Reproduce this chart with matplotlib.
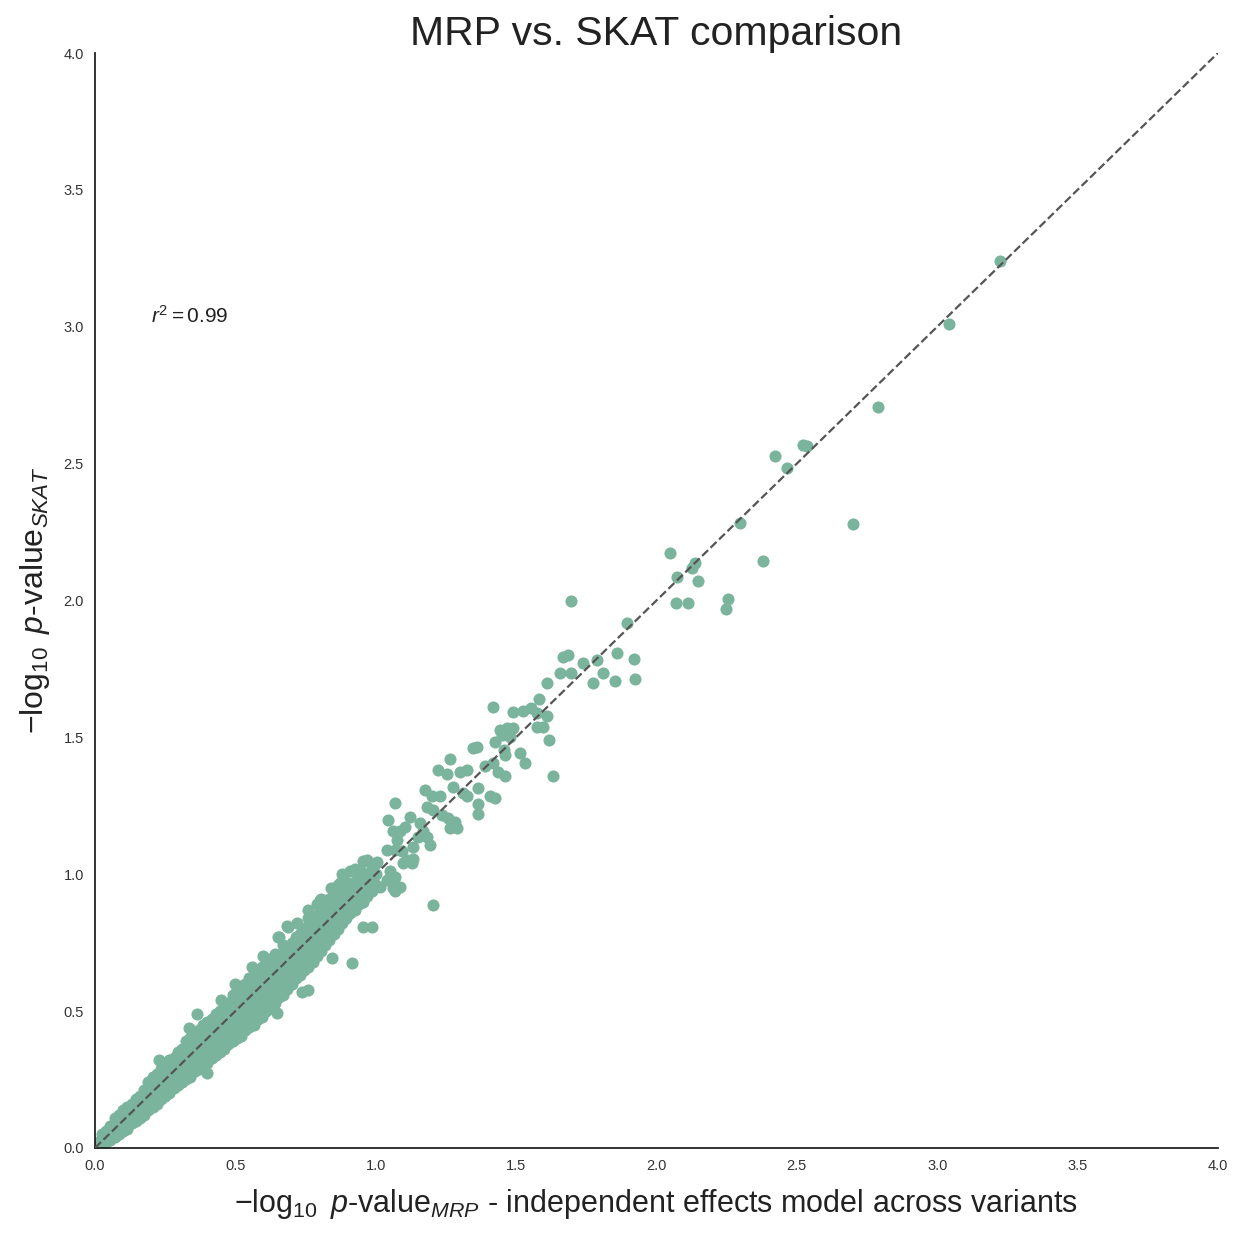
import matplotlib
matplotlib.use("Agg")
import matplotlib.pyplot as plt
import seaborn as sns

sns.set_style("white")
plt.rcParams['font.family'] = ['Liberation Sans', 'DejaVu Sans']
plt.rcParams['mathtext.fontset'] = 'custom'
plt.rcParams['mathtext.rm'] = 'Liberation Sans'
plt.rcParams['mathtext.it'] = 'Liberation Sans:italic'

# dense band near the diagonal: (MRP value, [SKAT values])
band_cols = [
    (0.010, [0.00, 0.02]),
    (0.025, [0.01, 0.03, 0.05]),
    (0.040, [0.02, 0.04, 0.06]),
    (0.055, [0.03, 0.05, 0.08]),
    (0.070, [0.04, 0.06, 0.09, 0.11]),
    (0.085, [0.05, 0.08, 0.10, 0.12]),
    (0.100, [0.06, 0.09, 0.11, 0.14]),
    (0.115, [0.07, 0.10, 0.13, 0.15]),
    (0.130, [0.09, 0.11, 0.14, 0.16]),
    (0.145, [0.10, 0.13, 0.15, 0.18]),
    (0.160, [0.11, 0.14, 0.17, 0.19]),
    (0.175, [0.12, 0.15, 0.18, 0.21]),
    (0.190, [0.14, 0.17, 0.19, 0.22, 0.24]),
    (0.205, [0.15, 0.18, 0.21, 0.24, 0.26]),
    (0.220, [0.16, 0.19, 0.22, 0.25, 0.27]),
    (0.235, [0.18, 0.21, 0.24, 0.26, 0.29]),
    (0.250, [0.19, 0.22, 0.25, 0.28, 0.30]),
    (0.265, [0.20, 0.23, 0.26, 0.29, 0.32]),
    (0.280, [0.22, 0.25, 0.28, 0.31, 0.33]),
    (0.295, [0.23, 0.26, 0.29, 0.32, 0.35]),
    (0.310, [0.24, 0.27, 0.30, 0.33, 0.36]),
    (0.325, [0.25, 0.28, 0.31, 0.34, 0.37, 0.39]),
    (0.340, [0.26, 0.29, 0.32, 0.35, 0.38, 0.40]),
    (0.355, [0.28, 0.31, 0.34, 0.37, 0.40]),
    (0.370, [0.29, 0.32, 0.35, 0.38, 0.41, 0.43]),
    (0.385, [0.30, 0.33, 0.36, 0.39, 0.42, 0.45]),
    (0.400, [0.31, 0.34, 0.37, 0.40, 0.43, 0.46]),
    (0.415, [0.33, 0.36, 0.39, 0.42, 0.45, 0.47]),
    (0.430, [0.34, 0.37, 0.40, 0.43, 0.46, 0.49]),
    (0.445, [0.35, 0.38, 0.41, 0.44, 0.47, 0.50]),
    (0.460, [0.36, 0.39, 0.42, 0.45, 0.48, 0.51, 0.53]),
    (0.475, [0.38, 0.41, 0.44, 0.47, 0.50, 0.53]),
    (0.490, [0.39, 0.42, 0.45, 0.48, 0.51, 0.54, 0.56]),
    (0.505, [0.40, 0.43, 0.46, 0.49, 0.52, 0.55, 0.58]),
    (0.520, [0.41, 0.44, 0.47, 0.50, 0.53, 0.56, 0.59]),
    (0.535, [0.43, 0.46, 0.49, 0.52, 0.55, 0.58, 0.60]),
    (0.550, [0.44, 0.47, 0.50, 0.53, 0.56, 0.59, 0.62]),
    (0.565, [0.45, 0.48, 0.51, 0.54, 0.57, 0.60, 0.63]),
    (0.580, [0.47, 0.50, 0.53, 0.56, 0.59, 0.62, 0.64]),
    (0.595, [0.48, 0.51, 0.54, 0.57, 0.60, 0.63, 0.66]),
    (0.610, [0.50, 0.53, 0.56, 0.59, 0.62, 0.65, 0.67]),
    (0.625, [0.51, 0.54, 0.57, 0.60, 0.63, 0.66, 0.69]),
    (0.640, [0.53, 0.56, 0.59, 0.62, 0.65, 0.68, 0.71]),
    (0.655, [0.55, 0.58, 0.61, 0.64, 0.67, 0.70, 0.77]),
    (0.670, [0.56, 0.59, 0.62, 0.65, 0.68, 0.71, 0.74]),
    (0.685, [0.58, 0.61, 0.64, 0.67, 0.70, 0.73, 0.81]),
    (0.700, [0.60, 0.63, 0.66, 0.69, 0.72, 0.75]),
    (0.715, [0.62, 0.65, 0.68, 0.71, 0.74, 0.77]),
    (0.730, [0.63, 0.66, 0.69, 0.72, 0.75, 0.78]),
    (0.745, [0.65, 0.68, 0.71, 0.74, 0.77, 0.80]),
    (0.760, [0.66, 0.69, 0.72, 0.75, 0.78, 0.81, 0.84]),
    (0.775, [0.68, 0.71, 0.74, 0.77, 0.80, 0.83]),
    (0.790, [0.70, 0.73, 0.76, 0.79, 0.82, 0.85, 0.89]),
    (0.805, [0.72, 0.75, 0.78, 0.81, 0.84, 0.87, 0.91]),
    (0.820, [0.74, 0.77, 0.80, 0.83, 0.86, 0.89]),
    (0.835, [0.76, 0.79, 0.82, 0.85, 0.88, 0.91]),
    (0.850, [0.78, 0.81, 0.84, 0.87, 0.90, 0.93]),
    (0.865, [0.80, 0.83, 0.86, 0.89, 0.92, 0.96]),
    (0.880, [0.82, 0.85, 0.88, 0.91, 0.94]),
    (0.895, [0.84, 0.87, 0.90, 0.93, 0.97]),
    (0.910, [0.86, 0.89, 0.92, 0.95, 1.01]),
    (0.925, [0.87, 0.90, 0.94, 0.97, 1.02]),
    (0.940, [0.89, 0.92, 0.96, 0.99]),
    (0.955, [0.90, 0.94, 0.98, 1.05]),
    (0.970, [0.92, 0.96, 1.00, 1.05]),
    (0.985, [0.94, 0.98, 1.02]),
    (1.000, [0.96, 1.00, 1.04]),
]

# scattered points around the band, (MRP, SKAT)
spread_pts = [
    (0.227, 0.321), (0.334, 0.437), (0.363, 0.489), (0.399, 0.275),
    (0.647, 0.492), (0.736, 0.571), (0.760, 0.577), (0.843, 0.693),
    (0.914, 0.675), (0.956, 0.808), (0.985, 0.808), (0.653, 0.772),
    (0.689, 0.808), (0.800, 0.906), (0.873, 0.967), (0.920, 1.010),
    (0.944, 1.015), (0.968, 1.052), (1.003, 1.046), (0.908, 0.942),
    (1.015, 0.955), (1.051, 1.010), (1.069, 0.991), (1.086, 0.955),
    (1.069, 0.937), (1.039, 0.979), (1.063, 0.949), (1.205, 0.888),
    (0.560, 0.660), (0.600, 0.700), (0.720, 0.820), (0.760, 0.870),
    (0.450, 0.540), (0.500, 0.600), (0.880, 1.000), (0.840, 0.950),
]

upper_pts = [
    (1.039, 1.089), (1.069, 1.089), (1.092, 1.083), (1.134, 1.101),
    (1.134, 1.055), (1.098, 1.040), (1.110, 1.052), (1.130, 1.040),
    (1.045, 1.198), (1.063, 1.156), (1.086, 1.156), (1.104, 1.174),
    (1.074, 1.125), (1.069, 1.261), (1.122, 1.210), (1.158, 1.186),
    (1.169, 1.156), (1.152, 1.137), (1.181, 1.137), (1.193, 1.107),
    (1.181, 1.247), (1.205, 1.235), (1.235, 1.216), (1.259, 1.204),
    (1.282, 1.192), (1.288, 1.168), (1.264, 1.168), (1.175, 1.308),
    (1.199, 1.284), (1.229, 1.284), (1.276, 1.320), (1.312, 1.296),
    (1.324, 1.284), (1.365, 1.315), (1.407, 1.284), (1.425, 1.278),
    (1.365, 1.257), (1.365, 1.220), (1.223, 1.381), (1.253, 1.366),
    (1.300, 1.375), (1.324, 1.381), (1.437, 1.375), (1.460, 1.359),
    (1.630, 1.359), (1.264, 1.420), (1.389, 1.395), (1.419, 1.405),
    (1.460, 1.436), (1.457, 1.454), (1.514, 1.442), (1.532, 1.407),
    (1.347, 1.460), (1.360, 1.466), (1.425, 1.484), (1.443, 1.527),
    (1.466, 1.533), (1.488, 1.533), (1.449, 1.509), (1.478, 1.502),
    (1.573, 1.539), (1.595, 1.536), (1.618, 1.490), (1.417, 1.609),
    (1.488, 1.594), (1.526, 1.596), (1.552, 1.606), (1.573, 1.588),
    (1.611, 1.578), (1.583, 1.639), (1.609, 1.698), (1.656, 1.734),
    (1.694, 1.736), (1.668, 1.795), (1.686, 1.801), (1.739, 1.771),
    (1.787, 1.783), (1.860, 1.807), (1.920, 1.785), (1.811, 1.734),
    (1.775, 1.698), (1.853, 1.704), (1.925, 1.712), (1.697, 1.998),
    (1.896, 1.919), (2.048, 2.175), (2.074, 2.087), (2.125, 2.118),
    (2.137, 2.138), (2.148, 2.071), (2.068, 1.992), (2.113, 1.992),
    (2.256, 2.005), (2.248, 1.968), (2.378, 2.144), (2.299, 2.284),
    (2.700, 2.278), (2.422, 2.528), (2.464, 2.485), (2.522, 2.568),
    (2.535, 2.566), (2.788, 2.706), (3.042, 3.010), (3.224, 3.240),
]

mrp = [x for x, ys in band_cols for _ in ys] + [p[0] for p in spread_pts + upper_pts]
skat = [y for _, ys in band_cols for y in ys] + [p[1] for p in spread_pts + upper_pts]

ticks = [0.0, 0.5, 1.0, 1.5, 2.0, 2.5, 3.0, 3.5, 4.0]

fig = plt.figure(figsize=(12.44, 12.33), dpi=100)
ax = fig.add_axes([0.0764, 0.069, 0.9026, 0.888])

ax.scatter(mrp, skat, s=76, color='#7bb49c', linewidths=0, zorder=2)
ax.plot([0, 4], [0, 4], ls='--', color='#555555', lw=1.6, zorder=3)

ax.set_xlim(0, 4)
ax.set_ylim(0, 4)
ax.set_xticks(ticks)
ax.set_yticks(ticks)
ax.tick_params(labelsize=10.5, colors='#333333', length=0, pad=8)
for sp in ['top', 'right']:
    ax.spines[sp].set_visible(False)
for sp in ['left', 'bottom']:
    ax.spines[sp].set_color('#222222')
    ax.spines[sp].set_linewidth(1.3)

ax.text(0.2, 3.0, r'$r^2 = 0.99$', fontsize=15, color='#222222', va='bottom')

ax.set_title('MRP vs. SKAT comparison', fontsize=29.5, color='#222222', pad=6)
ax.set_xlabel(r'$-\log_{10}$ $p$-value$_{MRP}$ - independent effects model across variants',
              fontsize=22, color='#222222', labelpad=10)
ax.set_ylabel(r'$-\log_{10}$ $p$-value$_{SKAT}$', fontsize=23, color='#222222', labelpad=8)

fig.savefig('out.png', dpi=100)
